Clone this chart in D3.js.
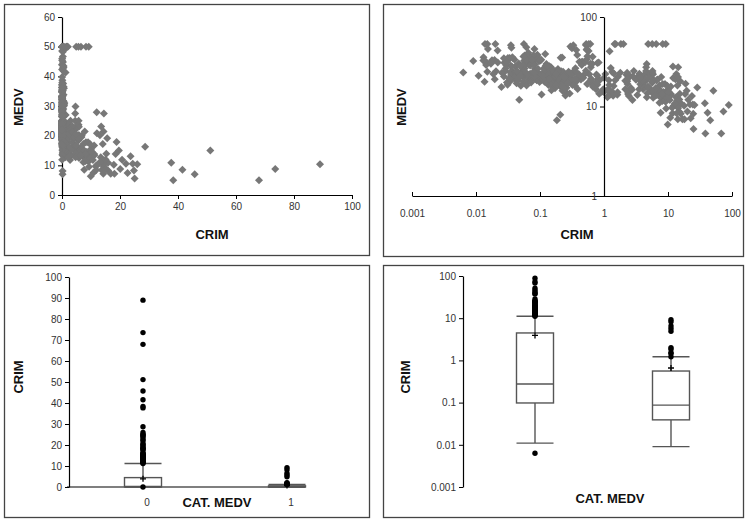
<!DOCTYPE html>
<html><head><meta charset="utf-8">
<script src="https://cdn.jsdelivr.net/npm/d3@7"></script>
<style>body{margin:0;background:#fff} text{font-family:Arial,"Liberation Sans",sans-serif}</style>
</head><body><svg id="c" width="746" height="519"></svg>
<script>
// CRIM (per-capita crime rate) for each tract
const crim = [
0.00632,0.02731,0.02729,0.03237,0.06905,0.02985,0.08829,0.14455,0.21124,0.17004,
0.22489,0.11747,0.09378,0.62976,0.63796,0.62739,1.05393,0.7842,0.80271,0.7258,
1.25179,0.85204,1.23247,0.98843,0.75026,0.84054,0.67191,0.95577,0.77299,1.00245,
1.13081,1.35472,1.38799,1.15172,1.61282,0.06417,0.09744,0.08014,0.17505,0.02763,
0.03359,0.12744,0.1415,0.15936,0.12269,0.17142,0.18836,0.22927,0.25387,0.21977,
0.08873,0.04337,0.0536,0.04981,0.0136,0.01311,0.02055,0.01432,0.15445,0.10328,
0.14932,0.17171,0.11027,0.1265,0.01951,0.03584,0.04379,0.05789,0.13554,0.12816,
0.08826,0.15876,0.09164,0.19539,0.07896,0.09512,0.10153,0.08707,0.05646,0.08387,
0.04113,0.04462,0.03659,0.03551,0.05059,0.05735,0.05188,0.07151,0.0566,0.05302,
0.04684,0.03932,0.04203,0.02875,0.04294,0.12204,0.11504,0.12083,0.08187,0.0686,
0.14866,0.11432,0.22876,0.21161,0.1396,0.13262,0.1712,0.13117,0.12802,0.26363,
0.10793,0.10084,0.12329,0.22212,0.14231,0.17134,0.13158,0.15098,0.13058,0.14476,
0.06899,0.07165,0.09299,0.15038,0.09849,0.16902,0.38735,0.25915,0.32543,0.88125,
0.34006,1.19294,0.59005,0.32982,0.97617,0.55778,0.32264,0.35233,0.2498,0.54452,
0.2909,1.62864,3.32105,4.0974,2.77974,2.37934,2.15505,2.36862,2.33099,2.73397,
1.6566,1.49632,1.12658,2.14918,1.41385,3.53501,2.44668,1.22358,1.34284,1.42502,
1.27346,1.46336,1.83377,1.51902,2.24236,2.924,2.01019,1.80028,2.3004,2.44953,
1.20742,2.3139,0.13914,0.09178,0.08447,0.06664,0.07022,0.05425,0.06642,0.0578,
0.06588,0.06888,0.09103,0.10008,0.08308,0.06047,0.05602,0.07875,0.12579,0.0837,
0.09068,0.06911,0.08664,0.02187,0.01439,0.01381,0.04011,0.04666,0.03768,0.0315,
0.01778,0.03445,0.02177,0.0351,0.02009,0.13642,0.22969,0.25199,0.13587,0.43571,
0.17446,0.37578,0.21719,0.14052,0.28955,0.19802,0.0456,0.07013,0.11069,0.11425,
0.35809,0.40771,0.62356,0.6147,0.31533,0.52693,0.38214,0.41238,0.29819,0.44178,
0.537,0.46296,0.57529,0.33147,0.44791,0.33045,0.52058,0.51183,0.08244,0.09252,
0.11329,0.10612,0.1029,0.12757,0.20608,0.19133,0.33983,0.19657,0.16439,0.19073,
0.1403,0.21409,0.08221,0.36894,0.04819,0.03548,0.01538,0.61154,0.66351,0.65665,
0.54011,0.53412,0.52014,0.82526,0.55007,0.76162,0.7857,0.57834,0.5405,0.09065,
0.29916,0.16211,0.1146,0.22188,0.05644,0.09604,0.10469,0.06127,0.07978,0.21038,
0.03578,0.03705,0.06129,0.01501,0.00906,0.01096,0.01965,0.03871,0.0459,0.04297,
0.03502,0.07886,0.03615,0.08265,0.08199,0.12932,0.05372,0.14103,0.06466,0.05561,
0.04417,0.03537,0.09266,0.1,0.05515,0.05479,0.07503,0.04932,0.49298,0.3494,
2.63548,0.79041,0.26169,0.26938,0.3692,0.25356,0.31827,0.24522,0.40202,0.47547,
0.1676,0.18159,0.35114,0.28392,0.34109,0.19186,0.30347,0.24103,0.06617,0.06724,
0.04544,0.05023,0.03466,0.05083,0.03738,0.03961,0.03427,0.03041,0.03306,0.05497,
0.06151,0.01301,0.02498,0.02543,0.03049,0.03113,0.06162,0.0187,0.01501,0.02899,
0.06211,0.0795,0.07244,0.01709,0.04301,0.10659,8.98296,3.8497,5.20177,4.26131,
4.54192,3.83684,3.67822,4.22239,3.47428,4.55587,3.69695,13.5222,4.89822,5.66998,
6.53876,9.2323,8.26725,11.1081,18.4982,19.6091,15.288,9.82349,23.6482,17.8667,
88.9762,15.8744,9.18702,7.99248,20.0849,16.8118,24.3938,22.5971,14.3337,8.15174,
6.96215,5.29305,11.5779,8.64476,13.3598,8.71675,5.87205,7.67202,38.3518,9.91655,
25.0461,14.2362,9.59571,24.8017,41.5292,67.9208,20.7162,11.9511,7.40389,14.4383,
51.1358,14.0507,18.811,28.6558,45.7461,18.0846,10.8342,25.9406,73.5341,11.8123,
11.0874,7.02259,12.0482,7.05042,8.79212,15.8603,12.2472,37.6619,7.36711,9.33889,
8.49213,10.0623,6.44405,5.58107,13.9134,11.1604,14.4208,15.1772,13.6781,9.39063,
22.0511,9.72418,5.66637,9.96654,12.8023,10.6718,6.28807,9.92485,9.32909,7.52601,
6.71772,5.44114,5.09017,8.24809,9.51363,4.75237,4.66883,8.20058,7.75223,6.80117,
4.81213,3.69311,6.65492,5.82115,7.83932,3.1636,3.77498,4.42228,15.5757,13.0751,
4.34879,4.03841,3.56868,4.64689,8.05579,6.39312,4.87141,15.0234,10.233,14.3337,
5.82401,5.70818,5.73116,2.81838,2.37857,3.67367,5.69175,4.83567,0.15086,0.18337,
0.20746,0.10574,0.11132,0.17331,0.27957,0.17899,0.2896,0.26838,0.23912,0.17783,
0.22438,0.06263,0.04527,0.06076,0.10959,0.04741
];
// MEDV (median home value, $1000s) for each tract
const medv = [
24,21.6,34.7,33.4,36.2,28.7,22.9,27.1,16.5,18.9,
15,18.9,21.7,20.4,18.2,19.9,23.1,17.5,20.2,18.2,
13.6,19.6,15.2,14.5,15.6,13.9,16.6,14.8,18.4,21,
12.7,14.5,13.2,13.1,13.5,18.9,20,21,24.7,30.8,
34.9,26.6,25.3,24.7,21.2,19.3,20,16.6,14.4,19.4,
19.7,20.5,25,23.4,18.9,35.4,24.7,31.6,23.3,19.6,
18.7,16,22.2,25,33,23.5,19.4,22,17.4,20.9,
24.2,21.7,22.8,23.4,24.1,21.4,20,20.8,21.2,20.3,
28,23.9,24.8,22.9,23.9,26.6,22.5,22.2,23.6,28.7,
22.6,22,22.9,25,20.6,28.4,21.4,38.7,43.8,33.2,
27.5,26.5,18.6,19.3,20.1,19.5,19.5,20.4,19.8,19.4,
21.7,22.8,18.8,18.7,18.5,18.3,21.2,19.2,20.4,19.3,
22,20.3,20.5,17.3,18.8,21.4,15.7,16.2,18,14.3,
19.2,19.6,23,18.4,15.6,18.1,17.4,17.1,13.3,17.8,
14,14.4,13.4,15.6,11.8,13.8,15.6,14.6,17.8,15.4,
21.5,19.6,15.3,19.4,17,15.6,13.1,41.3,24.3,23.3,
27,50,50,50,22.7,25,50,23.8,23.8,22.3,
17.4,19.1,23.1,23.6,22.6,29.4,23.2,24.6,29.9,37.2,
39.8,36.2,37.9,32.5,26.4,29.6,50,32,29.8,34.9,
37,30.5,36.4,31.1,29.1,50,33.3,30.3,34.6,34.9,
32.9,24.1,42.3,48.5,50,22.6,24.4,22.5,24.4,20,
21.7,19.3,22.4,28.1,23.7,25,23.3,28.7,21.5,23,
26.7,21.7,27.5,30.1,44.8,50,37.6,31.6,46.7,31.5,
24.3,31.7,41.7,48.3,29,24,25.1,31.5,23.7,23.3,
22,20.1,22.2,23.7,17.6,18.5,24.3,20.5,24.5,26.2,
24.4,24.8,29.6,42.8,21.9,20.9,44,50,36,30.1,
33.8,43.1,48.8,31,36.5,22.8,30.7,50,43.5,20.7,
21.1,25.2,24.4,35.2,32.4,32,33.2,33.1,29.1,35.1,
45.4,35.4,46,50,32.2,22,20.1,23.2,22.3,24.8,
28.5,37.3,27.9,23.9,21.7,28.6,27.1,20.3,22.5,29,
24.8,22,26.4,33.1,36.1,28.4,33.4,28.2,22.8,20.3,
16.1,22.1,19.4,21.6,23.8,16.2,17.8,19.8,23.1,21,
23.8,23.1,20.4,18.5,25,24.6,23,22.2,19.3,22.6,
19.8,17.1,19.4,22.2,20.7,21.1,19.5,18.5,20.6,19,
18.7,32.7,16.5,23.9,31.2,17.5,17.2,23.1,24.5,26.6,
22.9,24.1,18.6,30.1,18.2,20.6,17.8,21.7,22.7,22.6,
25,19.9,20.8,16.8,21.9,27.5,21.9,23.1,50,50,
50,50,50,13.8,13.8,15,13.9,13.3,13.1,10.2,
10.4,10.9,11.3,12.3,8.8,7.2,10.5,7.4,10.2,11.5,
15.1,23.2,9.7,13.8,12.7,13.1,12.5,8.5,5,6.3,
5.6,7.2,12.1,8.3,8.5,5,11.9,27.9,17.2,27.5,
15,17.2,17.9,16.3,7,7.2,7.5,10.4,8.8,8.4,
16.7,14.2,20.8,13.4,11.7,8.3,10.2,10.9,11,9.5,
14.5,14.1,16.1,14.3,11.7,13.4,9.6,8.7,8.4,12.8,
10.5,17.1,18.4,15.4,10.8,11.8,14.9,12.6,14.1,13,
13.4,15.2,16.1,17.8,14.9,14.1,12.7,13.5,14.9,20,
16.4,17.7,19.5,20.2,21.4,19.9,19,19.1,19.1,20.1,
19.9,19.6,23.2,29.8,13.8,13.3,16.7,12,14.6,21.4,
23,23.7,25,21.8,20.6,21.2,19.1,20.6,15.2,7,
8.1,13.6,20.1,21.8,24.5,23.1,19.7,18.3,21.2,17.5,
16.8,22.4,20.6,23.9,22,11.9
];
const catThreshold = 30;            // CAT. MEDV = 1 when MEDV > 30
const categories = ["0","1"];
const linXTicks = [0,20,40,60,80,100];
const linYTicks = [0,10,20,30,40,50,60];
const logXTicks = [0.001,0.01,0.1,1,10,100];
const logYTicks = [1,10,100];
const crimLinTicks = [0,10,20,30,40,50,60,70,80,90,100];
const crimLogTicks = [0.001,0.01,0.1,1,10,100];
// box-plot statistics of CRIM by CAT. MEDV
const boxQ1 = [0.098,0.039];
const boxMedian = [0.275,0.087];
const boxQ3 = [4.47,0.56];
const boxWhiskerLow = [0.01096,0.00906];
const boxWhiskerHigh = [11.16,1.22];
const boxMean = [3.9,0.66];

const rows = crim.map((c,i)=>({crim:c, medv:medv[i], cat: medv[i]>catThreshold?1:0}));
const boxes = categories.map((c,i)=>({cat:c, q1:boxQ1[i], med:boxMedian[i], q3:boxQ3[i], lo:boxWhiskerLow[i], hi:boxWhiskerHigh[i], mean:boxMean[i]}));
const outliers = rows.filter(r => r.crim > boxWhiskerHigh[r.cat] || r.crim < boxWhiskerLow[r.cat]);

const svg = d3.select("#c");
const FONT = 'Arial, "Liberation Sans", sans-serif';
const tickColor = "#333";
const ptColor = "#777";
const boxColor = "#555";

// panel frames
[[4,4,365,251],[383,4,360,252],[4,265,365,252],[383,265,360,252]].forEach(p=>{
  svg.append("rect").attr("x",p[0]+0.5).attr("y",p[1]+0.5).attr("width",p[2]).attr("height",p[3])
    .attr("fill","none").attr("stroke","#444").attr("stroke-width",1.3);
});

function styleAxis(g){
  g.selectAll("path.domain").attr("stroke","#000").attr("stroke-width",1.2);
  g.selectAll(".tick line").attr("stroke","#000").attr("stroke-width",1);
  g.selectAll(".tick text").attr("fill",tickColor).attr("font-size",10).attr("font-family",FONT);
  g.attr("font-family",FONT);
}
function title(txt,x,y,rot){
  const t = svg.append("text").text(txt).attr("font-size",13).attr("font-weight","bold")
    .attr("font-family",FONT).attr("fill","#111").attr("text-anchor","middle");
  if(rot) t.attr("transform",`translate(${x},${y}) rotate(-90)`); else t.attr("x",x).attr("y",y);
}
const diamond = d3.symbol(d3.symbolSquare, 32)();

// ---- Panel A: linear scatter
const xA = d3.scaleLinear().domain([0,100]).range([62,352]);
const yA = d3.scaleLinear().domain([0,60]).range([195,17]);
svg.append("g").attr("transform",`translate(0,${yA(0)})`)
  .call(d3.axisBottom(xA).tickValues(linXTicks).tickSize(4).tickSizeOuter(0).tickPadding(4)).call(styleAxis);
svg.append("g").attr("transform",`translate(${xA(0)},0)`)
  .call(d3.axisLeft(yA).tickValues(linYTicks).tickSize(4).tickSizeOuter(0).tickPadding(3)).call(styleAxis);
svg.append("g").selectAll("path").data(rows).join("path")
  .attr("d",diamond).attr("fill",ptColor)
  .attr("transform",d=>`translate(${xA(d.crim)},${yA(d.medv)}) rotate(45)`);
title("CRIM",212,239);
title("MEDV",23,107,true);

// ---- Panel B: log-log scatter
const xB = d3.scaleLog().domain([0.001,100]).range([412,732]);
const yB = d3.scaleLog().domain([1,100]).range([196,17]);
svg.append("g").selectAll("path").data(rows).join("path")
  .attr("d",diamond).attr("fill",ptColor)
  .attr("transform",d=>`translate(${xB(d.crim)},${yB(d.medv)}) rotate(45)`);
svg.append("g").attr("transform",`translate(0,${yB(1)})`)
  .call(d3.axisBottom(xB).tickValues(logXTicks).tickFormat(d3.format("~g")).tickSizeInner(-4).tickSizeOuter(0).tickPadding(14)).call(styleAxis);
svg.append("g").attr("transform",`translate(${xB(1)},0)`)
  .call(d3.axisLeft(yB).tickValues(logYTicks).tickFormat(d3.format("~g")).tickSize(4).tickSizeOuter(0).tickPadding(3)).call(styleAxis);
title("CRIM",577,239);
title("MEDV",406,107,true);

// ---- box plot helper
function drawBoxes(x,y,bw,ptR){
  const g = svg.append("g");
  boxes.forEach(b=>{
    const cx = x(b.cat);
    const line=(x1,y1,x2,y2)=>g.append("line").attr("x1",x1).attr("y1",y1).attr("x2",x2).attr("y2",y2)
      .attr("stroke",boxColor).attr("stroke-width",1.4);
    line(cx,y(b.q3),cx,y(b.hi));
    line(cx,y(b.q1),cx,y(b.lo));
    line(cx-bw/2,y(b.hi),cx+bw/2,y(b.hi));
    line(cx-bw/2,y(b.lo),cx+bw/2,y(b.lo));
    g.append("rect").attr("x",cx-bw/2).attr("y",y(b.q3)).attr("width",bw).attr("height",Math.max(0.5,y(b.q1)-y(b.q3)))
      .attr("fill","#fff").attr("stroke",boxColor).attr("stroke-width",1.4);
    line(cx-bw/2,y(b.med),cx+bw/2,y(b.med));
    const my=y(b.mean);
    g.append("path").attr("d",`M${cx-3},${my}H${cx+3}M${cx},${my-3}V${my+3}`).attr("stroke","#000").attr("stroke-width",1.3);
  });
  g.selectAll("circle").data(outliers).join("circle")
    .attr("cx",d=>x(categories[d.cat])).attr("cy",d=>y(d.crim)).attr("r",ptR).attr("fill","#000");
}

// ---- Panel C: linear box plot
const xC = d3.scalePoint().domain(categories).range([143,287]);
const yC = d3.scaleLinear().domain([0,100]).range([487,277]);
svg.append("line").attr("x1",67).attr("x2",305).attr("y1",yC(0)).attr("y2",yC(0)).attr("stroke","#000").attr("stroke-width",1.2);
drawBoxes(xC,yC,37,2.7);
svg.append("g").attr("transform",`translate(69,0)`)
  .call(d3.axisLeft(yC).tickValues(crimLinTicks).tickSize(4).tickSizeOuter(0).tickPadding(3)).call(styleAxis);
svg.append("g").selectAll("text").data(categories).join("text")
  .text(d=>d).attr("x",d=>xC(d)+4).attr("y",506).attr("text-anchor","middle")
  .attr("font-size",10).attr("fill",tickColor).attr("font-family",FONT);
title("CAT. MEDV",217,507);
title("CRIM",23,377,true);

// ---- Panel D: log box plot
const xD = d3.scalePoint().domain(categories).range([535,671]);
const yD = d3.scaleLog().domain([0.001,100]).range([487,276]);
drawBoxes(xD,yD,37,2.7);
svg.append("g").attr("transform",`translate(463,0)`)
  .call(d3.axisLeft(yD).tickValues(crimLogTicks).tickFormat(d3.format("~g")).tickSize(4).tickSizeOuter(0).tickPadding(3)).call(styleAxis);
title("CAT. MEDV",610,503);
title("CRIM",410,377,true);
</script></body></html>
